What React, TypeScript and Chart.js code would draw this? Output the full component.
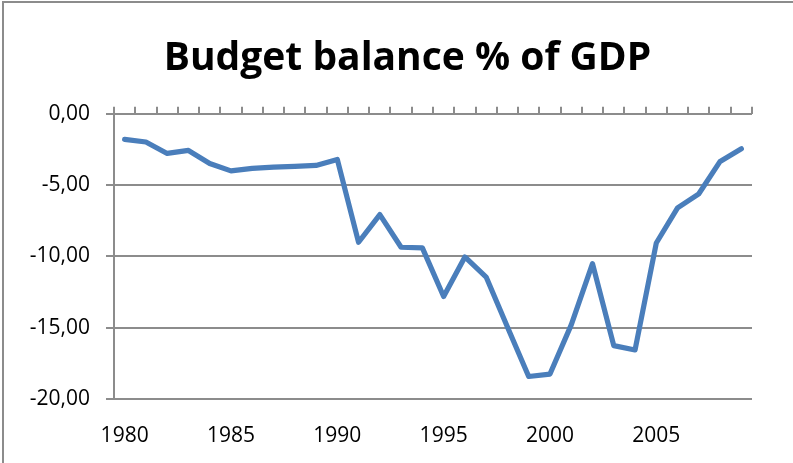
import React, { useEffect, useRef } from "react";
import { Chart, registerables } from "chart.js";

Chart.register(...registerables);

const years: string[] = [
  "1980", "1981", "1982", "1983", "1984", "1985", "1986", "1987", "1988", "1989",
  "1990", "1991", "1992", "1993", "1994", "1995", "1996", "1997", "1998", "1999",
  "2000", "2001", "2002", "2003", "2004", "2005", "2006", "2007", "2008", "2009",
];

const budgetBalance: number[] = [
  -1.79, -1.98, -2.78, -2.57, -3.48, -4.0, -3.83, -3.74, -3.69, -3.62,
  -3.2, -9.01, -7.07, -9.36, -9.4, -12.81, -10.04, -11.45, -14.95, -18.42,
  -18.25, -14.8, -10.51, -16.26, -16.56, -9.06, -6.6, -5.61, -3.34, -2.45,
];

const shownYearLabels: string[] = ["1980", "1985", "1990", "1995", "2000", "2005"];

const titleText = "Budget balance % of GDP";

const GRID = "#8c8c8c";
const FONT = "'Open Sans', 'DejaVu Sans', sans-serif";

// Center the title across the whole (wider, partially cropped) chart object
const fullWidthTitle = {
  id: "fullWidthTitle",
  afterLayout(chart: any) {
    const t = chart.titleBlock;
    if (t) {
      t.left = 0;
      t.right = chart.width;
      t.width = chart.width;
    }
  },
};

export default function App() {
  const ref = useRef<HTMLCanvasElement | null>(null);

  useEffect(() => {
    const canvas = ref.current;
    if (!canvas) return;
    const chart = new Chart(canvas, {
      type: "line",
      data: {
        labels: years,
        datasets: [
          {
            label: titleText,
            data: budgetBalance,
            borderColor: "#4a7ebb",
            borderWidth: 5.2,
            pointRadius: 0,
            tension: 0,
            borderJoinStyle: "round",
            borderCapStyle: "round",
            fill: false,
            xAxisID: "x",
          },
        ],
      },
      plugins: [fullWidthTitle],
      options: {
        animation: false,
        responsive: false,
        devicePixelRatio: 1,
        layout: { padding: { left: 0, right: 59, top: 0, bottom: 0 } },
        plugins: {
          legend: { display: false },
          tooltip: { enabled: false },
          title: {
            display: true,
            text: titleText,
            color: "#000",
            font: { family: FONT, size: 39, weight: "bold" },
            padding: { top: 32, bottom: 25 },
          },
        },
        scales: {
          x: {
            type: "category",
            position: "bottom",
            offset: true,
            grid: { display: false, drawTicks: false },
            border: { display: false },
            ticks: {
              autoSkip: false,
              maxRotation: 0,
              padding: 24,
              color: "#000",
              font: { family: FONT, size: 21 },
              callback: function (this: any, value: any) {
                const lbl = this.getLabelForValue(value);
                return shownYearLabels.includes(lbl) ? lbl : "";
              },
            },
            afterFit: (s: any) => {
              s.height = 470 - 396;
            },
          },
          x2: {
            type: "category",
            position: "top",
            offset: true,
            grid: {
              display: true,
              offset: true,
              drawOnChartArea: false,
              drawTicks: true,
              tickLength: 7,
              color: GRID,
              lineWidth: 2,
            },
            border: { display: false },
            ticks: { display: false },
          },
          y: {
            type: "linear",
            position: "left",
            min: -20,
            max: 0,
            grid: {
              color: GRID,
              lineWidth: 2,
              tickLength: 8,
              drawTicks: true,
            },
            border: { display: true, color: GRID, width: 2 },
            ticks: {
              stepSize: 5,
              padding: 16,
              color: "#000",
              font: { family: FONT, size: 21 },
              callback: (v: any) => Number(v).toFixed(2).replace(".", ","),
            },
            afterFit: (s: any) => {
              s.width = 110;
            },
          },
        },
      },
    });
    return () => chart.destroy();
  }, []);

  return (
    <div
      style={{
        position: "absolute",
        left: 0,
        top: 0,
        width: 793,
        height: 463,
        overflow: "hidden",
        background: "#fff",
      }}
    >
      <div
        style={{
          position: "absolute",
          left: 2,
          top: 1,
          width: 900,
          height: 600,
          borderLeft: "2px solid #8c8c8c",
          borderTop: "2px solid #8c8c8c",
        }}
      />
      <canvas
        ref={ref}
        width={807}
        height={470}
        style={{ position: "absolute", left: 4, top: 3, width: 807, height: 470 }}
      />
    </div>
  );
}
